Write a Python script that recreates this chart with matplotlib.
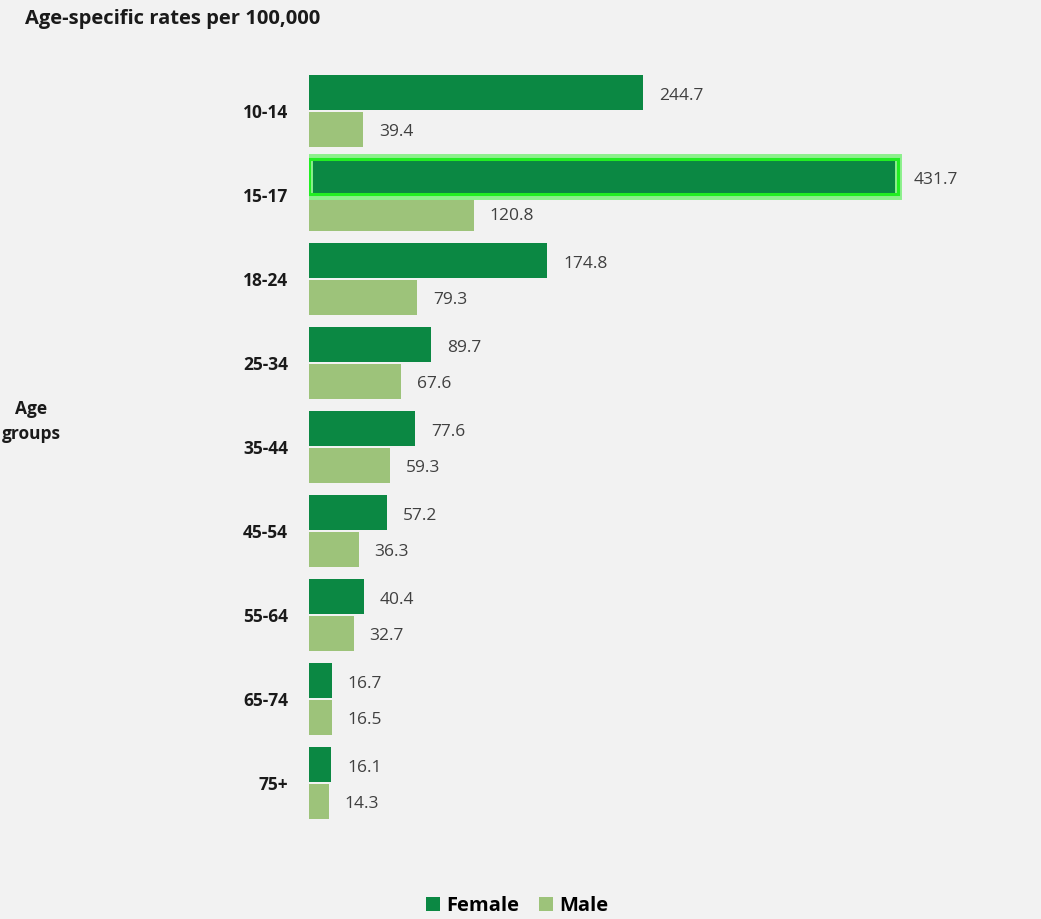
import matplotlib.pyplot as plt
import numpy as np

# data
age_groups = ["10-14", "15-17", "18-24", "25-34", "35-44", "45-54", "55-64", "65-74", "75+"]
female = [244.7, 431.7, 174.8, 89.7, 77.6, 57.2, 40.4, 16.7, 16.1]
male = [39.4, 120.8, 79.3, 67.6, 59.3, 36.3, 32.7, 16.5, 14.3]
highlighted = "15-17"

FEMALE_COL = "#0B8843"
MALE_COL = "#9DC37A"
BG = "#F2F2F2"

plt.rcParams["font.family"] = ["Open Sans", "DejaVu Sans"]

W, H = 1041, 919
fig = plt.figure(figsize=(W / 100, H / 100), dpi=100, facecolor=BG)
# axes placed in pixel terms: left edge = bar origin
ax_l, ax_r, ax_t, ax_b = 309, 1000, 60, 830
ax = fig.add_axes([ax_l / W, 1 - ax_b / H, (ax_r - ax_l) / W, (ax_b - ax_t) / H])
ax.set_facecolor(BG)

px_per_unit = 589 / 431.7
ax.set_xlim(0, (ax_r - ax_l) / px_per_unit)
pitch = 84
ax.set_ylim((ax_b - 111) / pitch, (ax_t - 111) / pitch)

y = np.arange(len(age_groups))
h = 0.42
off = 0.22

fb = ax.barh(y - off, female, height=h, color=FEMALE_COL, label="Female")
mb = ax.barh(y + off, male, height=h, color=MALE_COL, label="Male")

# highlight box around the peak bar
i = age_groups.index(highlighted)
ax.barh(y[i] - off, female[i], height=h + 0.05, left=0, color="none",
        edgecolor="#8CF08C", linewidth=5, zorder=3)
ax.barh(y[i] - off, female[i], height=h, left=0, color="none",
        edgecolor="#22EE22", linewidth=2.2, zorder=4)

for bars, vals in ((fb, female), (mb, male)):
    for b, v in zip(bars, vals):
        ax.annotate(f"{v:.1f}", (v, b.get_y() + b.get_height() / 2),
                    xytext=(16, -3), textcoords="offset pixels",
                    va="center", ha="left", fontsize=12.5, color="#404040")

ax.set_yticks(y)
ax.set_yticklabels(age_groups, fontsize=12.5, fontweight="bold", color="#1a1a1a")
ax.tick_params(axis="y", length=0, pad=15)
ax.set_xticks([])
for s in ax.spines.values():
    s.set_visible(False)

fig.text(25 / W, 1 - 19 / H, "Age-specific rates per 100,000", fontsize=14.5, fontweight="bold",
         color="#1a1a1a", ha="left", va="center")
fig.text(31 / W, 1 - 421 / H, "Age\ngroups", fontsize=12.5, fontweight="bold",
         color="#1a1a1a", ha="center", va="center", linespacing=1.5)

fig.legend(handles=[fb, mb], labels=["Female", "Male"], loc="center",
           bbox_to_anchor=(517 / W, 1 - 906 / H), ncol=2, frameon=False,
           handlelength=0.7, handleheight=0.7, handletextpad=0.3, columnspacing=1.0,
           prop={"size": 14.5, "weight": "bold"})

fig.savefig("out.png", dpi=100, facecolor=BG)
